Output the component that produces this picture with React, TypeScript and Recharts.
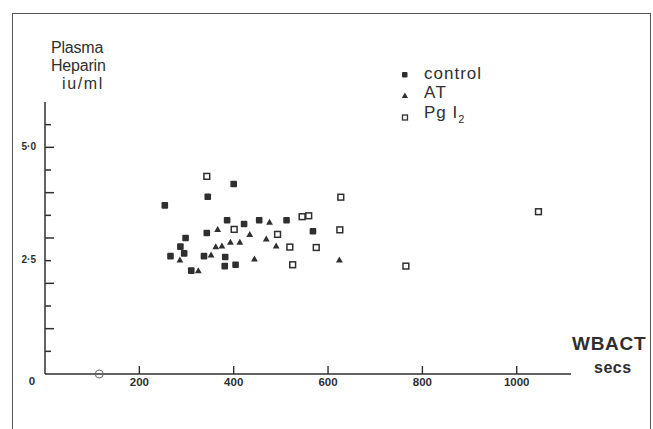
import React from "react";
import { ScatterChart, Scatter, XAxis, YAxis } from "recharts";

// WBACT (secs) vs plasma heparin (iu/ml)
const controlSecs = [254, 345, 400, 386, 422, 454, 512, 568, 343, 298, 287, 295, 266, 337, 382, 310, 381, 404];
const controlHeparin = [3.72, 3.91, 4.19, 3.39, 3.31, 3.39, 3.39, 3.15, 3.11, 3.0, 2.81, 2.66, 2.6, 2.6, 2.58, 2.28, 2.38, 2.41];

const atSecs = [286, 325, 352, 362, 375, 366, 393, 413, 434, 444, 469, 476, 490, 624];
const atHeparin = [2.52, 2.28, 2.63, 2.81, 2.83, 3.19, 2.91, 2.91, 3.08, 2.54, 2.98, 3.35, 2.83, 2.52];

const pgi2Secs = [343, 627, 545, 559, 401, 625, 493, 519, 575, 525, 765, 1046];
const pgi2Heparin = [4.36, 3.9, 3.47, 3.49, 3.19, 3.18, 3.08, 2.8, 2.79, 2.41, 2.38, 3.58];

const axisMarkSecs = [115];
const axisMarkHeparin = [0];

const xTicks = [0, 200, 400, 600, 800, 1000];
const yTicks = [0.5, 1, 1.5, 2, 2.5, 3, 3.5, 4, 4.5, 5, 5.5];
const yLabels: Record<number, string> = { 2.5: "2·5", 5: "5·0" };

const zip = (xs: number[], ys: number[]) => xs.map((x, i) => ({ x, y: ys[i] }));

const INK = "#2f2f2f";
const FONT = "'Liberation Sans', Arial, sans-serif";

const FilledSquare = (p: any) => (
  <rect x={p.cx - 3.3} y={p.cy - 3.3} width={6.6} height={6.6} rx={1} fill={INK} />
);
const Triangle = (p: any) => (
  <polygon
    points={`${p.cx - 3.4},${p.cy + 2.7} ${p.cx + 3.4},${p.cy + 2.7} ${p.cx},${p.cy - 3.3}`}
    fill={INK}
  />
);
const OpenSquare = (p: any) => (
  <rect x={p.cx - 2.9} y={p.cy - 2.9} width={5.8} height={5.8} fill="#fff" stroke={INK} strokeWidth={1.5} />
);
const OpenCircle = (p: any) => (
  <circle cx={p.cx} cy={p.cy} r={4} fill="none" stroke="#666" strokeWidth={1} />
);

const XTick = (p: any) => {
  const v = p.payload.value;
  if (v === 0) {
    return (
      <text x={p.x - 13} y={p.y + 8} textAnchor="middle" dominantBaseline="middle" fontSize={11.5} fontWeight="bold" fill={INK} fontFamily={FONT}>
        0
      </text>
    );
  }
  return (
    <g>
      <line x1={p.x} y1={p.y} x2={p.x} y2={p.y - 8} stroke={INK} strokeWidth={1.4} />
      <text x={p.x} y={p.y + 9} textAnchor="middle" dominantBaseline="middle" fontSize={11.5} fontWeight="bold" fill={INK} fontFamily={FONT}>
        {v}
      </text>
    </g>
  );
};

// axis line sits at x = margin.left + YAxis width
const Y_AXIS_X = 45;

const YTick = (p: any) => {
  const v = p.payload.value;
  const len = Number.isInteger(v) ? 9 : 6;
  return (
    <g>
      <line x1={Y_AXIS_X} y1={p.y} x2={Y_AXIS_X + len} y2={p.y} stroke={INK} strokeWidth={1.5} />
      {yLabels[v] && (
        <text x={Y_AXIS_X - 9} y={p.y} textAnchor="end" dominantBaseline="middle" fontSize={10} fontWeight="bold" fill={INK} fontFamily={FONT}>
          {yLabels[v]}
        </text>
      )}
    </g>
  );
};

const text = (extra: React.CSSProperties): React.CSSProperties => ({
  position: "absolute",
  fontFamily: FONT,
  color: INK,
  whiteSpace: "nowrap",
  lineHeight: 1,
  ...extra,
});

export default function App() {
  return (
    <div style={{ position: "absolute", left: 0, top: 0, width: 653, height: 429, background: "#fff", overflow: "hidden" }}>
      <div style={{ position: "absolute", left: 12, top: 13, width: 637, height: 430, border: "1.5px solid #555", borderBottom: "none" }} />
      <ScatterChart width={653} height={429} margin={{ top: 102, right: 82, bottom: 25, left: 5 }}>
        <XAxis
          type="number"
          dataKey="x"
          domain={[0, 1115]}
          ticks={xTicks}
          interval={0}
          height={30}
          tickSize={0}
          tickMargin={0}
          tickLine={false}
          axisLine={{ stroke: INK, strokeWidth: 1.5 }}
          tick={XTick}
        />
        <YAxis
          type="number"
          dataKey="y"
          domain={[0, 6]}
          ticks={yTicks}
          interval={0}
          width={40}
          tickSize={0}
          tickMargin={0}
          tickLine={false}
          axisLine={{ stroke: INK, strokeWidth: 1.5 }}
          tick={YTick}
        />
        <Scatter name="control" data={zip(controlSecs, controlHeparin)} shape={FilledSquare} isAnimationActive={false} />
        <Scatter name="AT" data={zip(atSecs, atHeparin)} shape={Triangle} isAnimationActive={false} />
        <Scatter name="PgI2" data={zip(pgi2Secs, pgi2Heparin)} shape={OpenSquare} isAnimationActive={false} />
        <Scatter name="mark" data={zip(axisMarkSecs, axisMarkHeparin)} shape={OpenCircle} isAnimationActive={false} />
      </ScatterChart>

      <div style={text({ left: 51, top: 40, fontSize: 16, letterSpacing: -0.2 })}>Plasma</div>
      <div style={text({ left: 51, top: 58, fontSize: 16, letterSpacing: -0.2 })}>Heparin</div>
      <div style={text({ left: 62, top: 76, fontSize: 16, letterSpacing: 1.6 })}>iu/ml</div>

      <svg style={{ position: "absolute", left: 398, top: 66 }} width={16} height={60}>
        <rect x={4} y={6} width={5.5} height={5.5} rx={1} fill={INK} />
        <polygon points="3.8,32 10,32 6.9,26.5" fill={INK} />
        <rect x={4.5} y={49} width={5} height={5} fill="#fff" stroke={INK} strokeWidth={1.3} />
      </svg>
      <div style={text({ left: 424, top: 65, fontSize: 17, letterSpacing: 1 })}>control</div>
      <div style={text({ left: 424, top: 84, fontSize: 17, letterSpacing: 1.5 })}>AT</div>
      <div style={text({ left: 424, top: 104, fontSize: 17, letterSpacing: 1 })}>
        Pg I<span style={{ fontSize: 11, verticalAlign: -5 }}>2</span>
      </div>

      <div style={text({ left: 572, top: 334, fontSize: 19, fontWeight: "bold", letterSpacing: 0.7 })}>WBACT</div>
      <div style={text({ left: 594, top: 360, fontSize: 16, fontWeight: "bold", letterSpacing: 0.5 })}>secs</div>
    </div>
  );
}
